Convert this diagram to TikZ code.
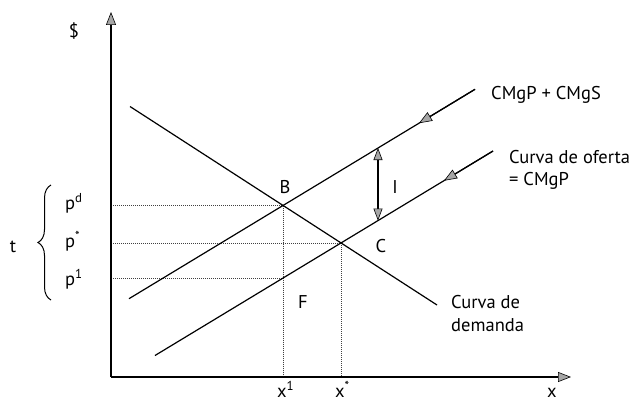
\documentclass[tikz,border=0pt]{standalone}
\usepackage{fontspec}
\setmainfont{PT Sans}
\usetikzlibrary{arrows.meta,decorations.pathreplacing}
\begin{document}
\begin{tikzpicture}[x=1pt,y=-1pt,
  every node/.style={font=\fontsize{18.5}{23}\selectfont, inner sep=0pt},
  lab/.style={anchor=base},
  labw/.style={anchor=base west},
  axis/.style={line width=1.8pt},
  curve/.style={line width=1.2pt},
  guide/.style={densely dotted, line width=1pt, black!75},
  tip/.style={-{Triangle[length=13pt,width=10pt,fill=gray!70,line width=0.6pt]}},
  dtip/.style={{Triangle[length=12pt,width=9pt,fill=gray!70,line width=0.6pt]}-{Triangle[length=12pt,width=9pt,fill=gray!70,line width=0.6pt]}}]
\useasboundingbox[fill=white] (0,0) rectangle (637,404);
% key points
\coordinate (O) at (111,377);
\coordinate (Ytop) at (111,12);
\coordinate (Xend) at (571,377);
\coordinate (B) at (283,205.5);
\coordinate (C) at (341,243);
\coordinate (D1) at (130,106.5);
\coordinate (D2) at (437,305);
\coordinate (S1a) at (129,298.7);
\coordinate (S1b) at (475,89.3);
\coordinate (S2a) at (155,355.5);
\coordinate (S2b) at (493,151);
\coordinate (F1) at (283,278.1);
\coordinate (A1) at (419,123.2);
\coordinate (A2) at (444,180.7);
\coordinate (Itop) at (378,148);
\coordinate (Ibot) at (378,220.6);
\coordinate (Pd) at (111,205.5);
\coordinate (Ps) at (111,243);
\coordinate (P1) at (111,278.1);
\coordinate (X1) at (283,377);
\coordinate (Xs) at (341,377);
\coordinate (Bt) at (51,300);
\coordinate (Bb) at (51,185);
% guides
\draw[guide] (Pd) -- (B);
\draw[guide] (Ps) -- (C);
\draw[guide] (P1) -- (F1);
\draw[guide] (B) -- (X1);
\draw[guide] (C) -- (Xs);
% axes
\draw[axis,tip] (O) -- (Ytop);
\draw[axis,tip] (O) -- (Xend);
% curves
\draw[curve] (D1) -- (D2);
\draw[curve] (S1a) -- (S1b);
\draw[curve] (S2a) -- (S2b);
\draw[curve,tip] (S1b) -- (A1);
\draw[curve,tip] (S2b) -- (A2);
\draw[curve,dtip] (Itop) -- (Ibot);
% brace
\draw[line width=1pt,decorate,decoration={brace,amplitude=13pt}] (Bt) -- (Bb);
% labels
\node[lab] (dol) at (74,38) {\$};
\node[labw] (lab1) at (491,99.5) {CMgP + CMgS};
\node[labw] (lab2a) at (509,163) {Curva de oferta};
\node[labw] (lab2b) at (509,185) {= CMgP};
\node[labw] (lab3a) at (451,308) {Curva de};
\node[labw] (lab3b) at (451,331) {demanda};
\node[lab] (lB) at (285,193) {B};
\node[lab] (lC) at (381,252) {C};
\node[lab] (lF) at (303,308) {F};
\node[lab] (lI) at (395,193) {I};
\node[labw] (lpd) at (65,209) {p\textsuperscript{d}};
\node[labw] (lps) at (65,247) {p\textsuperscript{*}};
\node[labw] (lp1) at (65,285) {p\textsuperscript{1}};
\node[lab] (lt) at (13,252) {t};
\node[labw] (lx1) at (277,397) {x\textsuperscript{1}};
\node[labw] (lxs) at (335,397) {x\textsuperscript{*}};
\node[lab] (lx) at (552,397) {x};
\end{tikzpicture}
\end{document}
